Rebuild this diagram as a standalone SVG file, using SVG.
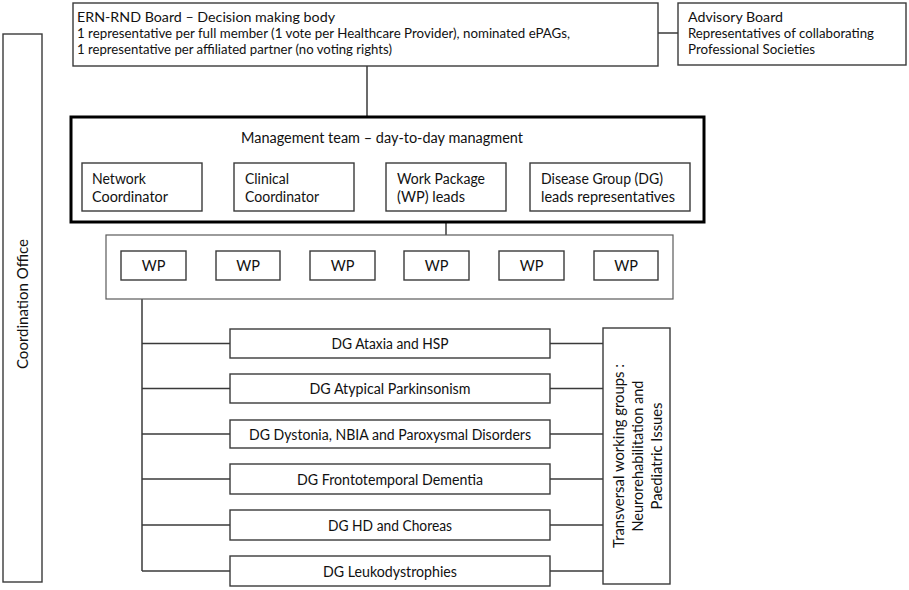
<svg xmlns="http://www.w3.org/2000/svg" width="909" height="590" viewBox="0 0 909 590">
<style>
rect{fill:#fff;stroke:#3a3a3a;stroke-width:1.4}
rect.thick{stroke:#000;stroke-width:3}
rect.light{stroke:#5a5a5a;stroke-width:1.2}
text{font-family:Lato,"Liberation Sans",sans-serif;font-size:14.5px;fill:#111}
text.s{font-size:14px}
.c{text-anchor:middle}
#connectors line{stroke:#3a3a3a;stroke-width:1.5}
</style>
<rect x="0" y="0" width="909" height="590" style="fill:#fff;stroke:none"/>
<g id="connectors">
<line x1="658" y1="33" x2="678" y2="33"/>
<line x1="367" y1="66" x2="367" y2="117"/>
<line x1="446" y1="211" x2="446" y2="235"/>
<line x1="142" y1="299" x2="142" y2="571"/>
<line x1="142" y1="343.5" x2="230" y2="343.5"/>
<line x1="142" y1="388.5" x2="230" y2="388.5"/>
<line x1="142" y1="434" x2="230" y2="434"/>
<line x1="142" y1="479" x2="230" y2="479"/>
<line x1="142" y1="525" x2="230" y2="525"/>
<line x1="142" y1="571" x2="230" y2="571"/>
<line x1="550" y1="343.5" x2="603" y2="343.5"/>
<line x1="550" y1="388.5" x2="603" y2="388.5"/>
<line x1="550" y1="434" x2="603" y2="434"/>
<line x1="550" y1="479" x2="603" y2="479"/>
<line x1="550" y1="525" x2="603" y2="525"/>
<line x1="550" y1="571" x2="603" y2="571"/>
</g>
<g id="coordination-office">
<rect x="3" y="34" width="39" height="548"/>
<text class="c" transform="translate(28,304) rotate(-90)" textLength="130" lengthAdjust="spacingAndGlyphs">Coordination Office</text>
</g>
<g id="ern-board">
<rect x="73" y="3" width="585" height="63"/>
<text class="s" x="77" y="22" textLength="258" lengthAdjust="spacingAndGlyphs">ERN-RND Board – Decision making body</text>
<text class="s" x="77" y="38" textLength="493" lengthAdjust="spacingAndGlyphs">1 representative per full member (1 vote per Healthcare Provider), nominated ePAGs,</text>
<text class="s" x="77" y="54" textLength="315" lengthAdjust="spacingAndGlyphs">1 representative per affiliated partner (no voting rights)</text>
</g>
<g id="advisory-board">
<rect x="678" y="3" width="228" height="62"/>
<text class="s" x="688" y="22" textLength="95" lengthAdjust="spacingAndGlyphs">Advisory Board</text>
<text class="s" x="688" y="38" textLength="186" lengthAdjust="spacingAndGlyphs">Representatives of collaborating</text>
<text class="s" x="688" y="54" textLength="127" lengthAdjust="spacingAndGlyphs">Professional  Societies</text>
</g>
<g id="management-team">
<rect class="thick" x="71" y="117" width="633" height="105"/>
<text x="241" y="143" textLength="282" lengthAdjust="spacingAndGlyphs">Management team – day-to-day managment</text>
</g>
<g id="network-coordinator">
<rect x="82" y="163" width="120" height="48"/>
<text x="92" y="184" textLength="54" lengthAdjust="spacingAndGlyphs">Network</text>
<text x="92" y="202" textLength="76" lengthAdjust="spacingAndGlyphs">Coordinator</text>
</g>
<g id="clinical-coordinator">
<rect x="234" y="163" width="120" height="48"/>
<text x="245" y="184" textLength="44" lengthAdjust="spacingAndGlyphs">Clinical</text>
<text x="245" y="202" textLength="74" lengthAdjust="spacingAndGlyphs">Coordinator</text>
</g>
<g id="wp-leads">
<rect x="386" y="163" width="120" height="48"/>
<text x="397" y="184" textLength="88" lengthAdjust="spacingAndGlyphs">Work Package</text>
<text x="397" y="202" textLength="68" lengthAdjust="spacingAndGlyphs">(WP) leads</text>
</g>
<g id="dg-leads">
<rect x="530" y="163" width="160" height="48"/>
<text x="541" y="184" textLength="122" lengthAdjust="spacingAndGlyphs">Disease Group (DG)</text>
<text x="541" y="202" textLength="134" lengthAdjust="spacingAndGlyphs">leads representatives</text>
</g>
<g id="wp-container">
<rect class="light" x="106" y="235" width="567" height="64"/>
</g>
<g id="wp1"><rect x="121" y="251" width="65" height="29"/><text class="c" x="153.5" y="270.5">WP</text></g>
<g id="wp2"><rect x="216" y="251" width="64" height="29"/><text class="c" x="248" y="270.5">WP</text></g>
<g id="wp3"><rect x="310" y="251" width="65" height="29"/><text class="c" x="342.5" y="270.5">WP</text></g>
<g id="wp4"><rect x="404" y="251" width="65" height="29"/><text class="c" x="436.5" y="270.5">WP</text></g>
<g id="wp5"><rect x="499" y="251" width="65" height="29"/><text class="c" x="531.5" y="270.5">WP</text></g>
<g id="wp6"><rect x="594" y="251" width="64" height="29"/><text class="c" x="626" y="270.5">WP</text></g>
<g id="dg-ataxia"><rect x="230" y="329" width="320" height="29"/><text class="c" x="390" y="349" textLength="117" lengthAdjust="spacingAndGlyphs">DG Ataxia and HSP</text></g>
<g id="dg-parkinsonism"><rect x="230" y="374" width="320" height="29"/><text class="c" x="390" y="394" textLength="161" lengthAdjust="spacingAndGlyphs">DG Atypical Parkinsonism</text></g>
<g id="dg-dystonia"><rect x="230" y="420" width="320" height="28"/><text class="c" x="390" y="439.5" textLength="282" lengthAdjust="spacingAndGlyphs">DG Dystonia, NBIA and Paroxysmal Disorders</text></g>
<g id="dg-dementia"><rect x="230" y="464" width="320" height="30"/><text class="c" x="390" y="484.5" textLength="186" lengthAdjust="spacingAndGlyphs">DG Frontotemporal Dementia</text></g>
<g id="dg-hd"><rect x="230" y="510" width="320" height="30"/><text class="c" x="390" y="530.5" textLength="124" lengthAdjust="spacingAndGlyphs">DG HD and Choreas</text></g>
<g id="dg-leuko"><rect x="230" y="556" width="320" height="30"/><text class="c" x="390" y="576.5" textLength="134" lengthAdjust="spacingAndGlyphs">DG Leukodystrophies</text></g>
<g id="transversal">
<rect x="603" y="328" width="67" height="256"/>
<text class="c" transform="translate(624,456) rotate(-90)" textLength="184" lengthAdjust="spacingAndGlyphs">Transversal  working groups :</text>
<text class="c" transform="translate(643,456) rotate(-90)" textLength="151" lengthAdjust="spacingAndGlyphs">Neurorehabilitation and</text>
<text class="c" transform="translate(662,456) rotate(-90)" textLength="107" lengthAdjust="spacingAndGlyphs">Paediatric  Issues</text>
</g>
</svg>
